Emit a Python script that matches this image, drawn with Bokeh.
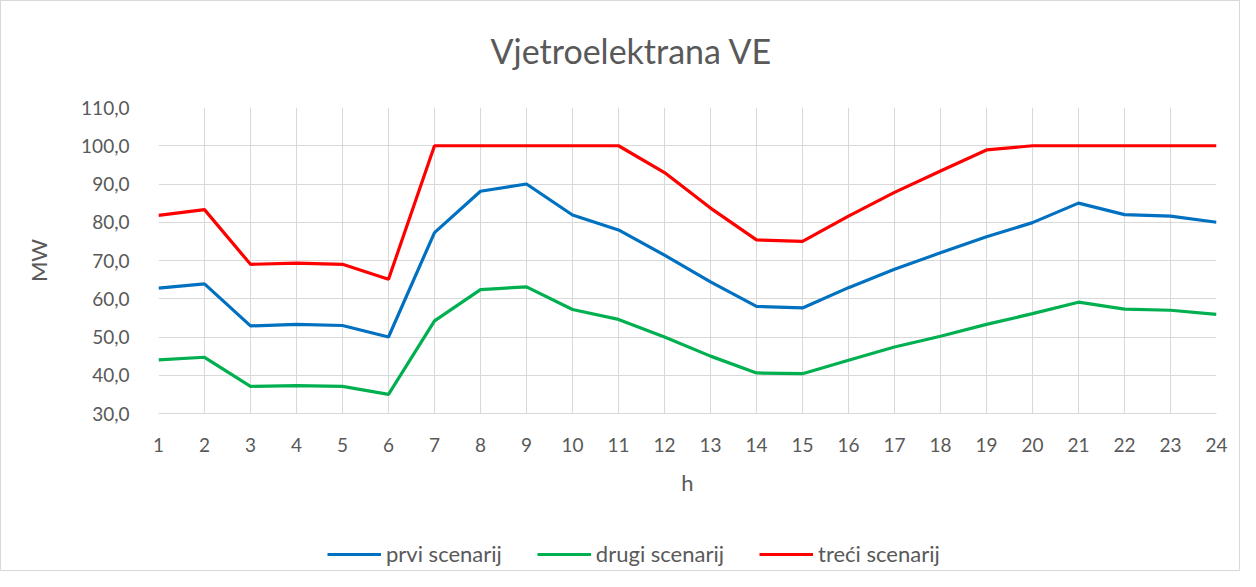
from bokeh.plotting import figure
from bokeh.models import FixedTicker, Legend, LegendItem, Title
from bokeh.layouts import column
from bokeh.embed import file_html
from bokeh.resources import INLINE

hours = list(range(1, 25))
prvi = [62.8, 63.9, 52.9, 53.3, 53.0, 50.0, 77.3, 88.1, 90.0, 81.9, 78.0, 71.4,
        64.4, 58.0, 57.6, 62.9, 67.7, 72.0, 76.2, 79.9, 85.0, 82.0, 81.6, 80.0]
drugi = [44.0, 44.7, 37.1, 37.3, 37.1, 35.0, 54.2, 62.4, 63.1, 57.2, 54.6, 50.0,
         45.0, 40.6, 40.4, 43.9, 47.4, 50.2, 53.3, 56.1, 59.1, 57.3, 57.0, 55.9]
treci = [81.8, 83.3, 69.0, 69.3, 69.0, 65.1, 100.0, 100.0, 100.0, 100.0, 100.0, 93.0,
         83.7, 75.4, 75.0, 81.6, 87.8, 93.4, 98.9, 100.0, 100.0, 100.0, 100.0, 100.0]
y_ticks = [30, 40, 50, 60, 70, 80, 90, 100, 110]
y_tick_labels = ["30,0", "40,0", "50,0", "60,0", "70,0", "80,0", "90,0", "100,0", "110,0"]
series_names = ["prvi scenarij", "drugi scenarij", "treći scenarij"]
colors = ["#0070C0", "#00B050", "#FF0000"]
title_text = "Vjetroelektrana VE"

FONT = "Lato"
GRAY = "#595959"
GRID = "#d9d9d9"
BORDER = "1px solid #d9d9d9"

# ---- main chart ----
p = figure(width=1240, height=505, output_backend="svg", toolbar_location=None,
           x_range=(1, 24), y_range=(30, 110),
           min_border_left=157, min_border_right=25, min_border_top=106, min_border_bottom=93)
p.outline_line_color = None
p.styles = {"border-top": BORDER, "border-left": BORDER, "border-right": BORDER,
            "box-sizing": "border-box"}

for ys, c in zip([prvi, drugi, treci], colors):
    p.line(hours, ys, line_color=c, line_width=3.2)

xax = p.xaxis[0]
yax = p.yaxis[0]
xax.ticker = FixedTicker(ticks=hours)
yax.ticker = FixedTicker(ticks=y_ticks)
yax.major_label_overrides = {t: l for t, l in zip(y_ticks, y_tick_labels)}
for ax in [xax, yax]:
    ax.major_tick_line_color = None
    ax.minor_tick_line_color = None
    ax.major_label_text_font = FONT
    ax.major_label_text_font_size = "19px"
    ax.major_label_text_color = GRAY
    ax.axis_label_text_font = FONT
    ax.axis_label_text_font_size = "22px"
    ax.axis_label_text_font_style = "normal"
    ax.axis_label_text_color = GRAY
xax.axis_line_color = GRID
yax.axis_line_color = None
xax.axis_label = "h"
yax.axis_label = "MW"
xax.major_label_standoff = 18
yax.major_label_standoff = 23
xax.axis_label_standoff = 14
yax.axis_label_standoff = 26

p.xgrid.grid_line_color = GRID
p.ygrid.grid_line_color = GRID
p.xgrid.ticker = FixedTicker(ticks=hours)
p.ygrid.ticker = FixedTicker(ticks=y_ticks)

# blank spacer between the frame and the title
p.add_layout(Title(text=" ", text_font_size="10px", standoff=24), "above")

p.title = Title(text=title_text, align="left", offset=332, standoff=0,
                vertical_align="bottom",
                text_font=FONT, text_font_size="34px", text_font_style="normal",
                text_color=GRAY)

# ---- legend strip below the chart (same series, drawn out of view) ----
p2 = figure(width=1240, height=66, output_backend="svg", toolbar_location=None,
            x_range=(1, 24), y_range=(0, 1), min_border=0,
            x_axis_location=None, y_axis_location=None)
p2.outline_line_color = None
p2.grid.visible = False
p2.styles = {"border-bottom": BORDER, "border-left": BORDER, "border-right": BORDER,
             "box-sizing": "border-box"}

legend_renderers = [p2.line(hours, ys, line_color=c, line_width=3.2)
                    for ys, c in zip([prvi, drugi, treci], colors)]
legend = Legend(items=[LegendItem(label=n, renderers=[r])
                       for n, r in zip(series_names, legend_renderers)],
                orientation="horizontal", location=(169, 4), margin=0,
                label_text_font=FONT, label_text_font_size="22px", label_text_color=GRAY,
                glyph_width=54, glyph_height=20, label_standoff=5, spacing=35, padding=0,
                border_line_color=None, background_fill_alpha=0)
p2.add_layout(legend, "center")

layout = column(p, p2, spacing=0)
open("out.html", "w").write(file_html(layout, INLINE))
